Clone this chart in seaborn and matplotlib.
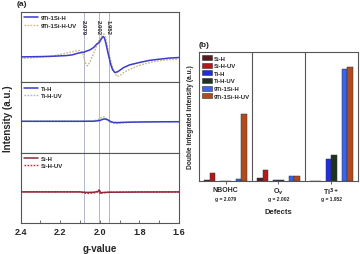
import numpy as np
import pandas as pd
import matplotlib
matplotlib.use("Agg")
import matplotlib.pyplot as plt
import matplotlib.transforms as mtransforms
from matplotlib.patches import Patch
import seaborn as sns

# ============================================================
# DATA
# ============================================================
# (a) EPR spectra, arbitrary units, baseline = 0
g_9ti = [2.40, 2.30, 2.23, 2.17, 2.14, 2.11, 2.08, 2.05, 2.03, 2.016, 2.003, 1.995,
         1.987, 1.982, 1.976, 1.968, 1.96, 1.952, 1.945, 1.935, 1.923, 1.91, 1.895,
         1.881, 1.85, 1.80, 1.75, 1.70, 1.65, 1.60]
i_9ti = [0, 0.3, 0.7, 1.3, 2.0, 3.7, 4.8, 7.0, 9.5, 12.7, 14.3, 17.0,
         19.6, 20.2, 18.5, 12.5, 5.0, -1.5, -7.5, -13.0, -15.6, -14.8, -12.8,
         -10.8, -8.0, -5.6, -3.5, -2.3, -1.2, -0.6]
g_9ti_uv = [2.40, 2.33, 2.25, 2.17, 2.13, 2.10, 2.085, 2.075, 2.063, 2.05, 2.033, 2.02,
            2.008, 1.995, 1.984, 1.979, 1.972, 1.964, 1.955, 1.94, 1.925, 1.912, 1.895,
            1.875, 1.848, 1.80, 1.747, 1.70, 1.65, 1.61]
i_9ti_uv = [-1.5, -0.8, 0.4, 3.7, 5.5, 6.5, 3.0, -5.0, -9.0, -5.0, 2.7, 9.0,
            15.0, 19.8, 22.4, 22.7, 20.0, 13.0, 4.5, -7.3, -16.0, -19.5, -18.0,
            -15.0, -12.3, -8.5, -5.6, -3.8, -2.8, -2.3]

g_ti = [2.40, 2.10, 2.03, 2.00, 1.985, 1.975, 1.96, 1.945, 1.93, 1.91, 1.88, 1.80, 1.70, 1.60]
i_ti = [0, 0, 0.1, 0.8, 2.0, 2.4, 1.5, -0.3, -1.2, -1.3, -1.0, -0.7, -0.5, -0.4]
g_ti_uv = [2.40, 2.10, 2.03, 2.005, 1.99, 1.978, 1.965, 1.95, 1.935, 1.915, 1.89, 1.85, 1.75, 1.60]
i_ti_uv = [0.2, 0.2, 0.5, 2.0, 4.0, 4.4, 2.5, -0.5, -2.0, -2.3, -1.8, -1.0, -0.5, -0.3]

g_si = [2.40, 2.10, 2.08, 2.06, 2.03, 2.01, 2.002, 1.995, 1.98, 1.95, 1.80, 1.60]
i_si = [0, 0, -0.3, -0.5, -0.3, 0.5, 1.5, -0.8, -0.5, -0.3, -0.1, 0]
g_si_uv = [2.40, 2.10, 2.078, 2.06, 2.03, 2.01, 2.004, 1.998, 1.99, 1.96, 1.80, 1.60]
i_si_uv = [0.2, 0.2, -1.2, -1.5, -1.0, 0, 2.0, -2.2, -1.0, -0.4, 0, 0]

g_marks = [2.079, 2.002, 1.952]
g_mark_labels = ["2.079", "2.002", "1.952"]

# (b) double integrated intensity (a.u.)
defects = ["NBOHC", "O$_v$", "Ti$^{3+}$"]
defect_g = ["g = 2.079", "g = 2.002", "g = 1.952"]
samples = ["Si-H", "Si-H-UV", "Ti-H", "Ti-H-UV", "9Ti-1Si-H", "9Ti-1Si-H-UV"]
val_si_h = [0.6, 2.3, 0]
val_si_h_uv = [5.9, 8.2, 0]
val_ti_h = [0, 0.8, 16.6]
val_ti_h_uv = [0, 0.6, 19.9]
val_9ti_h = [1.1, 3.6, 86.9]
val_9ti_h_uv = [52.0, 3.6, 87.9]

bar_colors = ["#5a1a22", "#b3191c", "#1f2ee6", "#1e3320", "#3a64f0", "#b24a1e"]

# ============================================================
# STYLE
# ============================================================
sns.set_style("ticks")
plt.rcParams["font.family"] = ["Liberation Sans", "DejaVu Sans"]
plt.rcParams["font.weight"] = "bold"
plt.rcParams["axes.edgecolor"] = "#555555"
plt.rcParams["axes.linewidth"] = 0.8

fig = plt.figure(figsize=(3.6, 2.55), dpi=100)

# ============================================================
# (a) stacked EPR spectra
# ============================================================
gs = fig.add_gridspec(3, 1, left=0.0575, right=0.497, bottom=0.122, top=0.949, hspace=0)
axes_a = [fig.add_subplot(gs[i]) for i in range(3)]

panels = [
    (g_9ti, i_9ti, "9Ti-1Si-H", "#3b3bd0", g_9ti_uv, i_9ti_uv, "9Ti-1Si-H-UV", "#c9b880", (-25.3, 44.7)),
    (g_ti, i_ti, "Ti-H", "#3b3bd0", g_ti_uv, i_ti_uv, "Ti-H-UV", "#a8c96a", (-31.6, 39.4)),
    (g_si, i_si, "Si-H", "#8c2a3c", g_si_uv, i_si_uv, "Si-H-UV", "#cc2222", (-30.7, 39.0)),
]

for ax, (gx, iy, lab, col, gx2, iy2, lab2, col2, ylim) in zip(axes_a, panels):
    for gv in g_marks:
        ax.axvline(gv, color="#4a5885", ls=(0, (1.2, 1.2)), lw=0.6, zorder=1)
    sns.lineplot(x=gx, y=iy, ax=ax, color=col, lw=1.1, label=lab, estimator=None, zorder=3)
    sns.lineplot(x=gx2, y=iy2, ax=ax, color=col2, lw=1.0, ls=(0, (1.2, 1.0)),
                 label=lab2, estimator=None, zorder=2)
    ax.set_xlim(2.4, 1.6)
    ax.set_ylim(*ylim)
    ax.set_yticks([])
    ax.set_ylabel("")
    ax.legend(loc="upper left", frameon=False, handlelength=2.4,
              handletextpad=0.4, labelspacing=0.35, borderaxespad=0.15,
              prop={"size": 4.3, "weight": "bold"})
    ax.set_xticks([2.4, 2.2, 2.0, 1.8, 1.6])
    ax.set_xticks([2.3, 2.1, 1.9, 1.7], minor=True)
    ax.tick_params(axis="x", which="both", direction="in", length=2, width=0.6,
                   color="#555555", top=False)
    if ax is not axes_a[-1]:
        ax.tick_params(axis="x", which="both", labelbottom=False, length=0)

axes_a[-1].set_xticklabels(["2.4", "2.2", "2.0", "1.8", "1.6"], fontsize=6.5, fontweight="bold")
axes_a[-1].tick_params(axis="x", pad=3)
axes_a[-1].set_xlabel("g-value", fontsize=7, fontweight="bold", labelpad=5)

trans = mtransforms.blended_transform_factory(axes_a[0].transData, axes_a[0].transAxes)
for gv, txt in zip(g_marks, g_mark_labels):
    axes_a[0].text(gv + 0.006, 0.9, txt, transform=trans, rotation=-90, ha="center",
                   va="top", fontsize=4.3, fontweight="bold")

fig.text(0.022, 0.535, "Intensity (a.u.)", rotation=90, ha="center", va="center",
         fontsize=7, fontweight="bold")
fig.text(0.062, 0.982, "(a)", ha="center", va="center", fontsize=6, fontweight="bold")

# ============================================================
# (b) double integrated intensity bars
# ============================================================
ax_b = fig.add_axes([0.553, 0.2875, 0.441, 0.5055])

# two empty hue levels make the pairwise gaps between the sample groups
gap_levels = [" ", "  "]
hue_order = samples[:2] + gap_levels[:1] + samples[2:4] + gap_levels[1:] + samples[4:]
palette = dict(zip(samples, bar_colors))
palette.update({lv: "white" for lv in gap_levels})

df = pd.DataFrame({
    "Defect": defects * 6,
    "Sample": [s for s in samples for _ in defects],
    "Value": val_si_h + val_si_h_uv + val_ti_h + val_ti_h_uv + val_9ti_h + val_9ti_h_uv,
})

sns.barplot(data=df, x="Defect", y="Value", hue="Sample", hue_order=hue_order,
            order=defects, palette=palette, width=0.8, gap=0, ax=ax_b, legend=False,
            edgecolor="#333333", linewidth=0.35, errorbar=None, saturation=1)

ax_b.set_xlim(-0.5, 2.5)
ax_b.set_ylim(0, 100)
ax_b.set_yticks([])
ax_b.axvline(0.5, color="#555555", lw=0.8)
ax_b.axvline(1.5, color="#555555", lw=0.8)
ax_b.set_xticks(range(len(defects)))
ax_b.set_xticklabels(defects, fontsize=5.0, fontweight="bold")
ax_b.tick_params(axis="x", length=2, width=0.6, pad=1.5, color="#555555")
ax_b.set_xlabel("Defects", fontsize=5.5, fontweight="bold", labelpad=8)
ax_b.set_ylabel("Double integrated intensity (a.u.)", fontsize=4.8, fontweight="bold", labelpad=4)

trans_b = mtransforms.blended_transform_factory(ax_b.transData, ax_b.transAxes)
for i, txt in enumerate(defect_g):
    ax_b.text(i, -0.118, txt, transform=trans_b, ha="center", va="top",
              fontsize=3.6, fontweight="bold")

handles = [Patch(facecolor=c, edgecolor="#333333", linewidth=0.4, label=s)
           for s, c in zip(samples, bar_colors)]
ax_b.legend(handles=handles, loc="upper left", frameon=False,
            prop={"size": 4.3, "weight": "bold"}, handlelength=1.6, handleheight=0.9,
            handletextpad=0.3, labelspacing=0.35, borderaxespad=0.15)

fig.text(0.567, 0.823, "(b)", ha="center", va="center", fontsize=6, fontweight="bold")

plt.savefig("out.png", dpi=100)
